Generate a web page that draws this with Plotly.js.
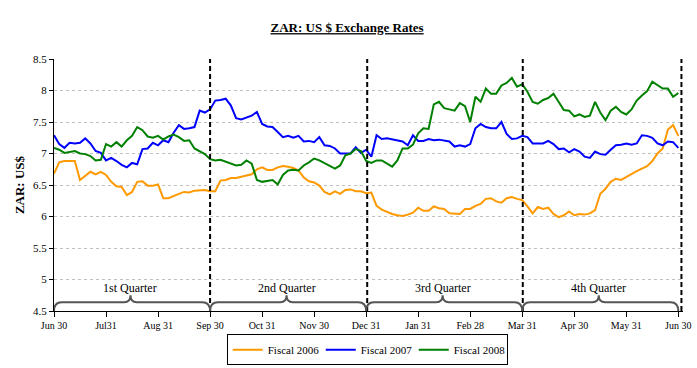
<!DOCTYPE html>
<html>
<head>
<meta charset="utf-8">
<script src="https://cdn.plot.ly/plotly-3.0.1.min.js"></script>
<style>html,body{margin:0;padding:0;background:#fff;}#chart{width:697px;height:368px;}</style>
</head>
<body>
<div id="chart"></div>
<script>
// Month-end tick positions (index of sample, 10 samples per month) and labels
var tickIdx = [0, 10, 20, 30, 40, 50, 60, 70, 80, 90, 100, 110, 120];
var tickLabels = ["Jun 30", "Jul31", "Aug 31", "Sep 30", "Oct 31", "Nov 30", "Dec 31", "Jan 31", "Feb 28", "Mar 31", "Apr 30", "May 31", "Jun 30"];
var quarterLabels = ["1st Quarter", "2nd Quarter", "3rd Quarter", "4th Quarter"];
var seriesNames = ["Fiscal 2006", "Fiscal 2007", "Fiscal 2008"];

var fiscal2006 = [6.68, 6.86, 6.88, 6.88, 6.88, 6.58, 6.65, 6.71, 6.67, 6.71, 6.66, 6.55, 6.48, 6.47, 6.34, 6.39, 6.55, 6.56, 6.49, 6.49, 6.51, 6.29, 6.29, 6.33, 6.36, 6.39, 6.38, 6.41, 6.41, 6.42, 6.40,
  6.40, 6.57, 6.58, 6.61, 6.61, 6.63, 6.65, 6.67, 6.75, 6.78, 6.74, 6.74, 6.78, 6.80, 6.79, 6.77, 6.73, 6.62, 6.56, 6.54, 6.49, 6.39, 6.35, 6.40, 6.36, 6.42, 6.43, 6.40, 6.40, 6.37,
  6.38, 6.17, 6.11, 6.07, 6.04, 6.02, 6.01, 6.03, 6.06, 6.14, 6.09, 6.09, 6.16, 6.13, 6.12, 6.05, 6.04, 6.04, 6.12, 6.12, 6.17, 6.20, 6.28, 6.29, 6.24, 6.22, 6.29, 6.31, 6.28, 6.26,
  6.16, 6.05, 6.15, 6.12, 6.14, 6.04, 5.99, 6.02, 6.08, 6.02, 6.04, 6.03, 6.05, 6.10, 6.36, 6.44, 6.55, 6.60, 6.58, 6.63, 6.68, 6.72, 6.76, 6.80, 6.88, 7.00, 7.08, 7.38, 7.45, 7.28];

var fiscal2007 = [7.29, 7.15, 7.09, 7.17, 7.16, 7.17, 7.24, 7.16, 7.04, 7.01, 6.89, 6.93, 6.88, 6.82, 6.78, 6.85, 6.83, 7.07, 7.08, 7.17, 7.13, 7.21, 7.18, 7.33, 7.45, 7.39, 7.40, 7.42, 7.68, 7.65, 7.70,
  7.84, 7.85, 7.87, 7.76, 7.56, 7.54, 7.57, 7.60, 7.66, 7.47, 7.43, 7.42, 7.34, 7.26, 7.28, 7.25, 7.28, 7.19, 7.20, 7.18, 7.26, 7.13, 7.12, 7.08, 7.00, 7.00, 7.00, 7.10, 7.01, 7.06,
  6.95, 7.29, 7.23, 7.24, 7.22, 7.20, 7.19, 7.13, 7.29, 7.20, 7.20, 7.23, 7.21, 7.22, 7.20, 7.19, 7.11, 7.13, 7.11, 7.15, 7.40, 7.47, 7.42, 7.40, 7.40, 7.50, 7.31, 7.23, 7.24, 7.28,
  7.26, 7.16, 7.16, 7.16, 7.20, 7.15, 7.07, 7.08, 7.02, 7.07, 7.03, 6.95, 6.93, 7.03, 6.99, 6.98, 7.06, 7.13, 7.14, 7.16, 7.14, 7.16, 7.29, 7.28, 7.25, 7.16, 7.13, 7.19, 7.18, 7.09];

var fiscal2008 = [7.09, 7.06, 7.01, 7.03, 7.04, 7.00, 6.99, 6.96, 6.89, 6.90, 7.15, 7.11, 7.18, 7.11, 7.21, 7.28, 7.42, 7.37, 7.27, 7.25, 7.28, 7.22, 7.27, 7.30, 7.26, 7.20, 7.21, 7.08, 7.04, 6.99, 6.91,
  6.89, 6.90, 6.87, 6.85, 6.81, 6.82, 6.89, 6.84, 6.58, 6.55, 6.56, 6.58, 6.51, 6.66, 6.73, 6.74, 6.73, 6.81, 6.86, 6.92, 6.89, 6.85, 6.81, 6.76, 6.81, 6.97, 7.00, 7.07, 7.04, 6.88,
  6.85, 6.89, 6.89, 6.84, 6.79, 6.89, 7.08, 7.08, 7.14, 7.32, 7.40, 7.39, 7.78, 7.82, 7.72, 7.70, 7.68, 7.80, 7.75, 7.50, 7.90, 7.82, 8.03, 7.95, 7.95, 8.08, 8.12, 8.20, 8.06, 8.10,
  7.98, 7.82, 7.79, 7.85, 7.88, 7.95, 7.82, 7.69, 7.68, 7.59, 7.62, 7.58, 7.60, 7.82, 7.65, 7.53, 7.68, 7.74, 7.66, 7.62, 7.70, 7.84, 7.92, 7.99, 8.14, 8.08, 8.03, 8.03, 7.90, 7.96];

var serif = 'Liberation Serif, Times New Roman, serif';
var colors = ['#FF9900', '#0000FF', '#008000'];
var seriesData = [fiscal2006, fiscal2007, fiscal2008];

var traces = seriesData.map(function (ys, i) {
  return {
    y: ys,
    type: 'scatter',
    mode: 'lines',
    name: seriesNames[i],
    line: {color: colors[i], width: 2},
    hoverinfo: 'skip'
  };
});

var quarterEdges = [0, 30, 60.2, 90.1, 120.6];
var shapes = [];
var annotations = [];
// dashed quarter separators
for (var q = 1; q < quarterEdges.length; q++) {
  shapes.push({type: 'line', xref: 'x', yref: 'paper', x0: quarterEdges[q], x1: quarterEdges[q], y0: 0, y1: 1,
    line: {color: '#000', width: 2, dash: '5px,3px'}});
}
// curly braces and quarter labels
var yb = 4.5, yh = 4.64, yt = 4.75;
for (var q = 0; q < 4; q++) {
  var a = q * 30, b = (q + 1) * 30, m = a + 15 - 0.3;
  var p = 'M ' + a + ',' + yb + ' Q ' + a + ',' + yh + ' ' + (a + 1.5) + ',' + yh +
          ' L ' + (m - 1.2) + ',' + yh + ' Q ' + m + ',' + yh + ' ' + m + ',' + yt +
          ' Q ' + m + ',' + yh + ' ' + (m + 1.2) + ',' + yh +
          ' L ' + (b - 1.5) + ',' + yh + ' Q ' + b + ',' + yh + ' ' + b + ',' + yb;
  shapes.push({type: 'path', xref: 'x', yref: 'y', path: p, line: {color: '#555', width: 2}});
  annotations.push({xref: 'x', yref: 'y', x: m, y: 4.86, text: quarterLabels[q], showarrow: false,
    font: {family: serif, size: 12, color: '#000'}});
}

var layout = {
  width: 697, height: 368,
  margin: {l: 54, r: 14, t: 59, b: 57, autoexpand: false},
  paper_bgcolor: '#fff', plot_bgcolor: '#fff',
  title: {text: '<b><u>ZAR: US $ Exchange Rates</u></b>', font: {family: serif, size: 13, color: '#000'},
    x: 0.498, xanchor: 'center', y: 0.925, yanchor: 'middle'},
  showlegend: true,
  legend: {orientation: 'h', x: 0.498, xanchor: 'center', y: -0.092, yanchor: 'top',
    bordercolor: '#000', borderwidth: 1, font: {family: serif, size: 11, color: '#000'},
    itemwidth: 30, entrywidth: 48, entrywidthmode: 'pixels', tracegroupgap: 0},
  xaxis: {range: [0, 120.9], tickmode: 'array', tickvals: tickIdx, ticktext: tickLabels,
    showgrid: false, zeroline: false, showline: true, linecolor: '#000', linewidth: 1,
    ticks: 'outside', ticklen: 5, tickcolor: '#000',
    tickfont: {family: serif, size: 10, color: '#000'}, fixedrange: true},
  yaxis: {range: [4.5, 8.5], dtick: 0.5, tick0: 4.5, showgrid: true, gridcolor: '#c0c0c0',
    griddash: '3px,3px', gridwidth: 1, zeroline: false, showline: true, linecolor: '#000', linewidth: 1,
    ticks: 'outside', ticklen: 4, tickcolor: '#000',
    tickfont: {family: serif, size: 11, color: '#000'},
    title: {text: '<b>ZAR: US$</b>', font: {family: serif, size: 13, color: '#000'}, standoff: 5},
    fixedrange: true},
  shapes: shapes,
  annotations: annotations,
  hovermode: false
};

Plotly.newPlot('chart', traces, layout, {displayModeBar: false, staticPlot: true});
</script>
</body>
</html>
